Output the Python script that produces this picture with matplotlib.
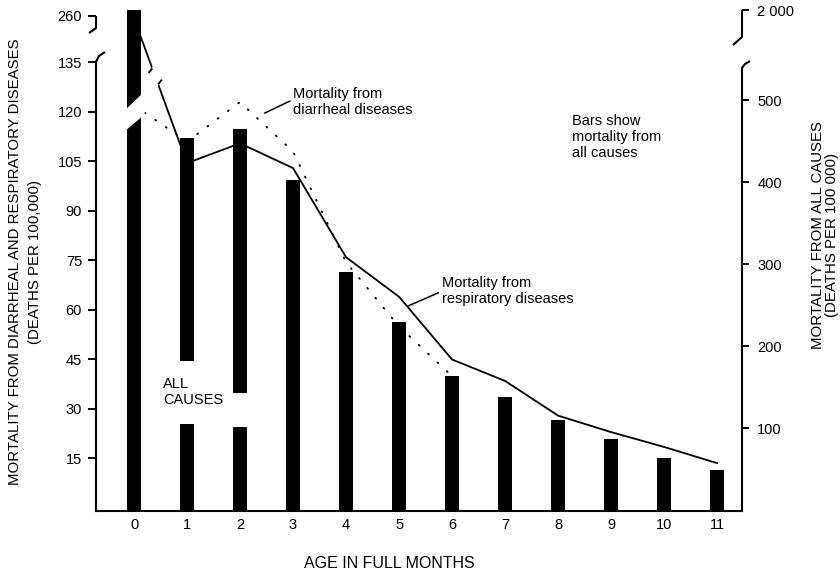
import numpy as np
import matplotlib
matplotlib.use('Agg')
import matplotlib.pyplot as plt
from matplotlib.lines import Line2D
from matplotlib.patches import Polygon

plt.rcParams['font.family'] = ['Liberation Sans', 'DejaVu Sans']

# data
months = list(range(12))
all_causes = [2000, 454, 465, 402, 290, 229, 163, 138, 110, 87, 63, 49]      # right axis
respiratory = [250, 104.5, 110.5, 103, 76, 64, 45, 38.5, 28, 23, 18.5, 13.6]  # left axis
diarrheal_months = [0, 1, 2, 3, 4, 5, 6]
diarrheal = [122, 111, 123, 108, 74.5, 55, 40]

left_ticks = [15, 30, 45, 60, 75, 90, 105, 120, 135, 260]
right_ticks = [100, 200, 300, 400, 500, 2000]
right_tick_labels = ['100', '200', '300', '400', '500', '2 000']

# white gap in bars 1 and 2 where the "ALL CAUSES" label sits (right axis units)
gap_months = [1, 2]
gap_lo = [105, 101]
gap_hi = [182, 143]

W, H = 840, 574


def make_break(brk, comp):
    # linear up to brk, squeezed above it (broken axis)
    def fwd(v):
        v = np.asarray(v, dtype=float)
        return np.where(v <= brk, v, brk + (v - brk) * comp)

    def inv(t):
        t = np.asarray(t, dtype=float)
        return np.where(t <= brk, t, brk + (t - brk) / comp)
    return fwd, inv


fig = plt.figure(figsize=(W / 100, H / 100), dpi=100)
ax = fig.add_axes([96 / W, 1 - 511 / H, 646 / W, 501 / H])
ax2 = ax.twinx()

ax.set_yscale('function', functions=make_break(140, 0.0758))
ax2.set_yscale('function', functions=make_break(560, 0.03458))
ax.set_ylim(-0.91, 283.8)
ax2.set_ylim(-1.22, 2000)
ax.set_xlim(-0.717, 11.47)

# bars (all causes) on the right axis
ax2.bar(months, all_causes, width=0.27, color='black', zorder=2)
ax2.bar(gap_months, np.subtract(gap_hi, gap_lo), bottom=gap_lo, width=0.45,
        color='white', zorder=3)

# lines on the left axis
ax.plot(months, respiratory, color='black', lw=1.3, zorder=3)
ax.plot(diarrheal_months, diarrheal, color='black', lw=1.3, ls=(0, (0.6, 6.5)),
        dash_capstyle='round', zorder=3)

# spines
for a in (ax, ax2):
    a.spines['top'].set_visible(False)
ax.spines['right'].set_visible(False)
ax2.spines['left'].set_visible(False)
ax2.spines['bottom'].set_visible(False)
ax.spines['left'].set_bounds(-0.91, 135)
ax2.spines['right'].set_bounds(-1.22, 539)
for sp in (ax.spines['left'], ax.spines['bottom'], ax2.spines['right']):
    sp.set_linewidth(1.5)

ax.set_yticks(left_ticks)
ax.tick_params(axis='y', direction='out', length=6, width=1.4, labelsize=10.5, pad=4)
ax.set_xticks(months)
ax.tick_params(axis='x', length=0, pad=5, labelsize=10.5)
ax2.set_yticks(right_ticks, right_tick_labels)
ax2.tick_params(axis='y', direction='out', length=5, width=1.4, labelsize=10.5, pad=6)

to_fig = fig.transFigure.inverted()


def fig_line(pts_disp, **kw):
    pts = to_fig.transform(pts_disp)
    fig.add_artist(Line2D(pts[:, 0], pts[:, 1], transform=fig.transFigure,
                          color=kw.pop('color', 'black'), lw=kw.pop('lw', 1.5),
                          solid_capstyle='butt', **kw))


def fig_poly(pts_disp, **kw):
    pts = to_fig.transform(pts_disp)
    fig.add_artist(Polygon(pts, closed=True, transform=fig.transFigure, **kw))


# axis break marks (display pixels, y up)
def up(x, y):
    return (x, H - y)


fig_line(np.array([up(96, 62), up(99, 56), up(105, 52)]))
fig_line(np.array([up(96, 16), up(96, 28), up(89, 33)]))
fig_line(np.array([up(742, 68), up(745, 64), up(750, 61)]))
fig_line(np.array([up(733, 45), up(742, 37), up(742, 10)]))

# cut through bar 0
c = ax.transData.transform((0, 120))
fig_poly(np.array([c + (-10, 0), c + (10, 19), c + (10, -2), c + (-10, -19)]),
         color='white', zorder=5)

# break in the respiratory line between months 0 and 1
p0 = ax.transData.transform((0, respiratory[0]))
p1 = ax.transData.transform((1, respiratory[1]))
d = (p1 - p0) / np.hypot(*(p1 - p0))
mid = p0 + (p1 - p0) * 0.40
a = mid - d * 8.5
b = mid + d * 8.5
cut = np.array([4.0, 5.0]) / np.hypot(4, 5)
fig_poly(np.array([a - cut * 7, a + cut * 7, b + cut * 7, b - cut * 7]),
         color='white', zorder=5)
fig_line(np.array([a, a - cut * 6]), lw=1.3, zorder=6)
fig_line(np.array([b, b + cut * 6]), lw=1.3, zorder=6)

# annotations
fs = 10.5
ax.text(3.0, 123, 'Mortality from\ndiarrheal diseases', fontsize=fs,
        ha='left', va='center', linespacing=1.15)
ax.plot([2.47, 2.94], [119.7, 123.3], color='black', lw=1.1)
ax.text(5.81, 65.8, 'Mortality from\nrespiratory diseases', fontsize=fs,
        ha='left', va='center', linespacing=1.15)
ax.plot([5.17, 5.74], [61.2, 65.2], color='black', lw=1.1)
ax.text(8.26, 112.4, 'Bars show\nmortality from\nall causes', fontsize=fs,
        ha='left', va='center', linespacing=1.2)
# drawn on the bar axes so it sits above the white gap
ax2.text(0.55, 35.2, 'ALL\nCAUSES', fontsize=fs, ha='left', va='center',
         linespacing=1.15, zorder=6, transform=ax.transData)

# axis titles
fig.text(15 / W, 1 - 262 / H, 'MORTALITY FROM DIARRHEAL AND RESPIRATORY DISEASES',
         rotation=90, ha='center', va='center', fontsize=10.8)
fig.text(35 / W, 1 - 262 / H, '(DEATHS PER 100,000)',
         rotation=90, ha='center', va='center', fontsize=10.8)
fig.text(818 / W, 1 - 235 / H, 'MORTALITY FROM ALL CAUSES',
         rotation=90, ha='center', va='center', fontsize=10.8)
fig.text(832 / W, 1 - 235 / H, '(DEATHS PER 100 000)',
         rotation=90, ha='center', va='center', fontsize=10.8)
fig.text(389 / W, 1 - 564 / H, 'AGE IN FULL MONTHS', ha='center', va='center',
         fontsize=11.5)

fig.savefig('out.png', dpi=100)
plt.close(fig)
